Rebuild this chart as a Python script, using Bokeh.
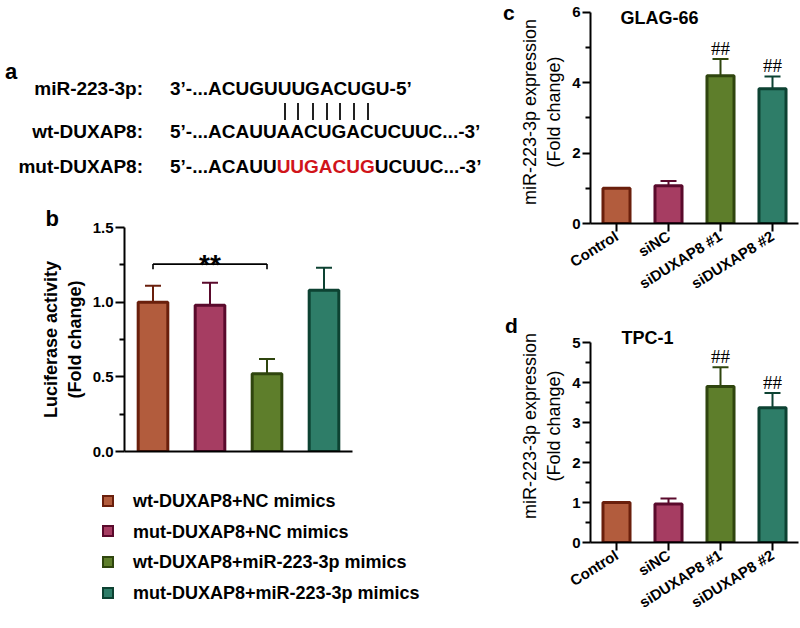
from bokeh.plotting import figure
from bokeh.layouts import row, column
from bokeh.models import Range1d, FactorRange, Label, FixedTicker, PrintfTickFormatter, Div, Title
from bokeh.core.properties import value
from bokeh.embed import file_html
from bokeh.resources import INLINE

# ---------------- data ----------------
b_groups = ["wt-DUXAP8+NC mimics", "mut-DUXAP8+NC mimics",
            "wt-DUXAP8+miR-223-3p mimics", "mut-DUXAP8+miR-223-3p mimics"]
b_values = [1.00, 0.98, 0.52, 1.08]
b_sd = [0.11, 0.15, 0.10, 0.15]

cd_groups = ["Control", "siNC", "siDUXAP8 #1", "siDUXAP8 #2"]
c_values = [1.00, 1.07, 4.20, 3.83]
c_sd = [0.0, 0.14, 0.48, 0.35]
c_marks = ["", "", "##", "##"]
d_values = [1.00, 0.96, 3.90, 3.37]
d_sd = [0.0, 0.14, 0.48, 0.37]
d_marks = ["", "", "##", "##"]

fill_colors = ["#B25C3D", "#A63D62", "#5E7E2B", "#2E7D68"]
edge_colors = ["#6A1F0C", "#5A0A2C", "#2F450E", "#0D4232"]

b_ticks = [0.0, 0.5, 1.0, 1.5]
b_minor = [0.25, 0.75, 1.25]
c_ticks = [0, 2, 4, 6]
c_minor = [1, 3, 5]
d_ticks = [0, 1, 2, 3, 4, 5]
d_minor = [0.5, 1.5, 2.5, 3.5, 4.5]

seq_labels = ["miR-223-3p:", "wt-DUXAP8:", "mut-DUXAP8:"]
seq_mir = "3\u2019-...ACUGUUUGACUGU-5\u2019"
seq_wt = "5\u2019-...ACAUUAACUGACUCUUC...-3\u2019"
seq_mut_parts = ["5\u2019-...ACAUU", "UUGACUG", "UCUUC...-3\u2019"]

FONT = value("Liberation Sans")
SERIF = value("Liberation Serif")
CSS_FONT = "font-family:'Liberation Sans',Arial,Helvetica,sans-serif;"


# ---------------- html helpers ----------------
def span(x, baseline, text, size, color="black", right=False, weight="bold"):
    top = baseline - 0.8465 * size
    base = (f"position:absolute;top:{top:.1f}px;font-size:{size}px;line-height:{size}px;"
            f"font-weight:{weight};color:{color};white-space:nowrap;")
    if right:
        base += f"left:0px;width:{x:.1f}px;text-align:right;"
    else:
        base += f"left:{x:.1f}px;"
    return f'<div style="{base}">{text}</div>'


def box(w, h, inner):
    return (f'<div style="position:relative;width:{w}px;height:{h}px;{CSS_FONT}'
            f'margin:0;padding:0;">{inner}</div>')


# ---------------- panel a (text block, page coords) ----------------
em = 19.0
row_base = [95, 138.5, 173]
parts = [span(5, 80, "a", 22)]
for lab, yb in zip(seq_labels, row_base):
    parts.append(span(143, yb, lab, 19, right=True))
parts.append(span(170, row_base[0], seq_mir, 19))
parts.append(span(170, row_base[1], seq_wt, 19))
mut_html = (f'{seq_mut_parts[0]}<span style="color:#D0141A">{seq_mut_parts[1]}</span>'
            f'{seq_mut_parts[2]}')
parts.append(span(170, row_base[2], mut_html, 19))
# pairing bars under the matched letters of the miRNA (UUGACUG)
pre = (0.556 + 0.278 + 0.333 + 0.834 + 0.722 * 4 + 0.778) * em
acc = 170 + pre
for w in [0.722, 0.722, 0.778, 0.722, 0.722, 0.722, 0.778]:
    cx = acc + w * em / 2
    parts.append(f'<div style="position:absolute;left:{round(cx - 1)}px;top:103px;'
                 f'width:2px;height:17px;background:#222;"></div>')
    acc += w * em
div_a = Div(text=box(488, 190, "".join(parts)), width=488, height=190, margin=0)

# ---------------- legend block (y local = page y - 470) ----------------
leg_parts = []
for i, (g, fc_, ec_) in enumerate(zip(b_groups, fill_colors, edge_colors)):
    cy = 30.7 + i * 30.7
    leg_parts.append(f'<div style="position:absolute;left:102px;top:{cy - 6:.1f}px;width:12px;'
                     f'height:12px;box-sizing:border-box;border:2.5px solid {ec_};'
                     f'background:{fc_};"></div>')
    leg_parts.append(span(133, cy + 6.4, g, 18))
div_leg = Div(text=box(488, 158, "".join(leg_parts)), width=488, height=158, margin=0)

# ---------------- middle column (panel letters c, d; x local = page x - 488) ----------------
mid_parts = [span(15, 20, "c", 21), span(17, 333, "d", 21)]
div_mid = Div(text=box(29, 628, "".join(mid_parts)), width=29, height=628, margin=0)


# ---------------- bar panel helper ----------------
def bar_panel(width, height, groups, values, sd, ticks, minor, ytop, ymax, borders,
              ylabel, label_bold, label_size):
    p = figure(width=width, height=height, x_range=FactorRange(*groups),
               y_range=Range1d(0, ytop), output_backend="svg",
               toolbar_location=None, **borders)
    p.outline_line_color = None
    p.grid.visible = False
    p.background_fill_color = "white"
    p.border_fill_color = "white"
    ups_x = [g for g, s in zip(groups, sd) if s > 0]
    ups_lo = [v for v, s in zip(values, sd) if s > 0]
    ups_hi = [v + s for v, s in zip(values, sd) if s > 0]
    ups_c = [c for c, s in zip(edge_colors, sd) if s > 0]
    p.segment(x0=ups_x, y0=ups_lo, x1=ups_x, y1=ups_hi, line_color=ups_c, line_width=2)
    p.scatter(x=ups_x, y=ups_hi, marker="dash", size=16, line_color=ups_c, line_width=2)
    p.vbar(x=groups, top=values, width=0.52, fill_color=fill_colors,
           line_color=edge_colors, line_width=3)
    ya = p.yaxis[0]
    ya.ticker = FixedTicker(ticks=ticks, minor_ticks=minor)
    ya.bounds = (0, ymax)
    ya.axis_line_width = 2
    ya.axis_line_color = "black"
    ya.major_tick_line_width = 2
    ya.minor_tick_line_width = 2
    ya.major_tick_out = 9
    ya.major_tick_in = 0
    ya.minor_tick_out = 5
    ya.minor_tick_in = 0
    ya.major_label_standoff = 2
    ya.major_label_text_font = "Liberation Sans"
    ya.major_label_text_font_style = "bold"
    ya.major_label_text_font_size = "15px"
    ya.major_label_text_color = "black"
    ya.axis_label = ylabel
    ya.axis_label_text_font = "Liberation Sans"
    ya.axis_label_text_font_style = "bold" if label_bold else "normal"
    ya.axis_label_text_font_size = label_size
    ya.axis_label_text_color = "black"
    ya.axis_label_standoff = 5
    xa = p.xaxis[0]
    xa.axis_line_width = 2
    xa.axis_line_color = "black"
    xa.minor_tick_line_color = None
    return p


# ---------------- panel b (page y 190..470) ----------------
fb = bar_panel(488, 280, b_groups, b_values, b_sd, b_ticks, b_minor, 1.5, 1.5,
               dict(min_border_left=124, min_border_right=136,
                    min_border_top=37, min_border_bottom=19),
               "Luciferase activity\n(Fold change)", True, "18px")
fb.yaxis[0].formatter = PrintfTickFormatter(format="%.1f")
fb.xaxis[0].major_tick_line_color = None
fb.xaxis[0].major_label_text_color = None
fb.xaxis[0].major_label_text_font_size = "1px"
fb.xaxis[0].major_label_standoff = 0
fb.segment(x0=[b_groups[0], b_groups[0], b_groups[2]], y0=[1.255, 1.255, 1.255],
           x1=[b_groups[2], b_groups[0], b_groups[2]], y1=[1.255, 1.22, 1.22],
           line_color="black", line_width=1.6)
fb.text(x=[b_groups[1]], y=[1.25], text=["**"], text_font=FONT, text_font_style="bold",
        text_font_size="28px", text_align="center", text_baseline="alphabetic")
fb.add_layout(Title(text="b", align="left", offset=-79, standoff=-6,
                    text_font="Liberation Sans", text_font_style="bold",
                    text_font_size="22px", text_color="black"), "above")


# ---------------- panels c and d ----------------
def expr_panel(height, values, sd, marks, ticks, minor, ytop, ymax, borders,
               title, tpos):
    p = bar_panel(283, height, cd_groups, values, sd, ticks, minor, ytop, ymax, borders,
                  "miR-223-3p expression\n(Fold change)", False, "18px")
    xa = p.xaxis[0]
    xa.major_tick_line_width = 2
    xa.major_tick_out = 8
    xa.major_tick_in = 0
    xa.major_label_orientation = 0.56
    xa.major_label_standoff = 3
    xa.major_label_text_font = "Liberation Sans"
    xa.major_label_text_font_style = "bold"
    xa.major_label_text_font_size = "15px"
    xa.major_label_text_color = "black"
    p.yaxis[0].major_tick_out = 8
    hx = [g for g, m in zip(cd_groups, marks) if m]
    hy = [v + s for v, s, m in zip(values, sd, marks) if m]
    ht = [m for m in marks if m]
    p.text(x=hx, y=hy, text=ht, text_font=SERIF, text_font_size="19px",
           text_align="center", text_baseline="bottom")
    p.add_layout(Label(x=tpos[0], y=tpos[1], x_units="screen", y_units="screen",
                       text=title, text_font="Liberation Sans", text_font_style="bold",
                       text_font_size="18px", text_align="center", text_color="black",
                       text_baseline="alphabetic"))
    return p


# c: page y 0..309, frame 0..223, value 6 at y=12
fc = expr_panel(309, c_values, c_sd, c_marks, c_ticks, c_minor, 6.341, 6,
                dict(min_border_left=67, min_border_right=2,
                     min_border_top=0, min_border_bottom=86),
                "GLAG-66", (69, 206))
# d: page y 309..628, frame 309..542, value 5 at y=342
fd = expr_panel(319, d_values, d_sd, d_marks, d_ticks, d_minor, 5.825, 5,
                dict(min_border_left=67, min_border_right=2,
                     min_border_top=0, min_border_bottom=86),
                "TPC-1", (57, 205))

layout = row(column(div_a, fb, div_leg), div_mid, column(fc, fd))
open("out.html", "w").write(file_html(layout, INLINE))
